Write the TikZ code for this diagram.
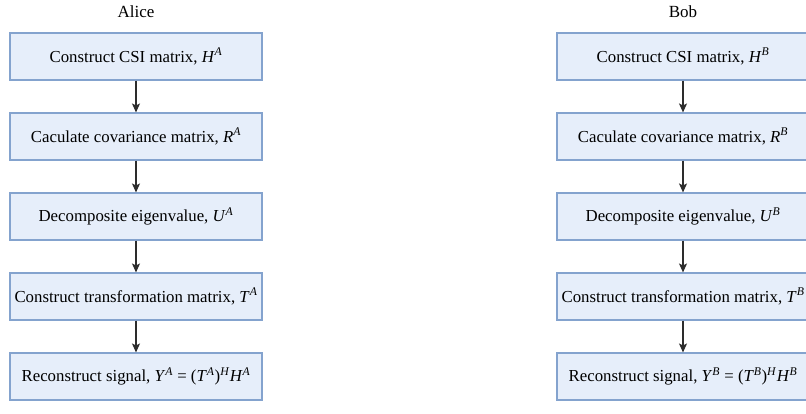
\documentclass[tikz,border=0pt]{standalone}
\usepackage{fontspec}
\setmainfont{Liberation Serif}
\usetikzlibrary{arrows.meta}
\definecolor{boxfill}{RGB}{230,238,250}
\definecolor{boxdraw}{RGB}{132,163,206}
\definecolor{arrowcol}{RGB}{45,45,45}
\newcommand\mv[1]{\textit{#1}}
\newcommand\sps[1]{\textsuperscript{\textit{#1}}}
\begin{document}
\begin{tikzpicture}[x=1pt,y=-1pt,
  stepbox/.style={draw=boxdraw,fill=boxfill,line width=1.1pt,minimum width=252pt,minimum height=47pt,inner sep=0pt,font=\fontsize{16.8}{20}\selectfont},
  flow/.style={draw=arrowcol,line width=1.4pt,-{Stealth[length=9pt,width=8pt,inset=2pt]}},
  head/.style={font=\fontsize{17}{20}\selectfont}]
\useasboundingbox (0,0) rectangle (806,414);
% Alice column
\node[head] (alice) at (136,12) {Alice};
\node[stepbox] (a1) at (136,56.5) {Construct CSI matrix, \mv{H}\sps{A}};
\node[stepbox] (a2) at (136,136.5) {Caculate covariance matrix, \mv{R}\sps{A}};
\node[stepbox] (a3) at (136,216.5) {Decomposite eigenvalue, \mv{U}\sps{A}};
\node[stepbox] (a4) at (136,296.5) {Construct transformation matrix, \mv{T}\sps{A}};
\node[stepbox] (a5) at (136,376.5) {Reconstruct signal, \mv{Y}\sps{A} = (\mv{T}\sps{A})\sps{H}\mv{H}\sps{A}};
% Bob column
\node[head] (bob) at (683,12) {Bob};
\node[stepbox] (b1) at (683,56.5) {Construct CSI matrix, \mv{H}\sps{B}};
\node[stepbox] (b2) at (683,136.5) {Caculate covariance matrix, \mv{R}\sps{B}};
\node[stepbox] (b3) at (683,216.5) {Decomposite eigenvalue, \mv{U}\sps{B}};
\node[stepbox] (b4) at (683,296.5) {Construct transformation matrix, \mv{T}\sps{B}};
\node[stepbox] (b5) at (683,376.5) {Reconstruct signal, \mv{Y}\sps{B} = (\mv{T}\sps{B})\sps{H}\mv{H}\sps{B}};
\foreach \c in {a,b}{
  \draw[flow] (\c1) -- (\c2);
  \draw[flow] (\c2) -- (\c3);
  \draw[flow] (\c3) -- (\c4);
  \draw[flow] (\c4) -- (\c5);
}
\end{tikzpicture}
\end{document}
